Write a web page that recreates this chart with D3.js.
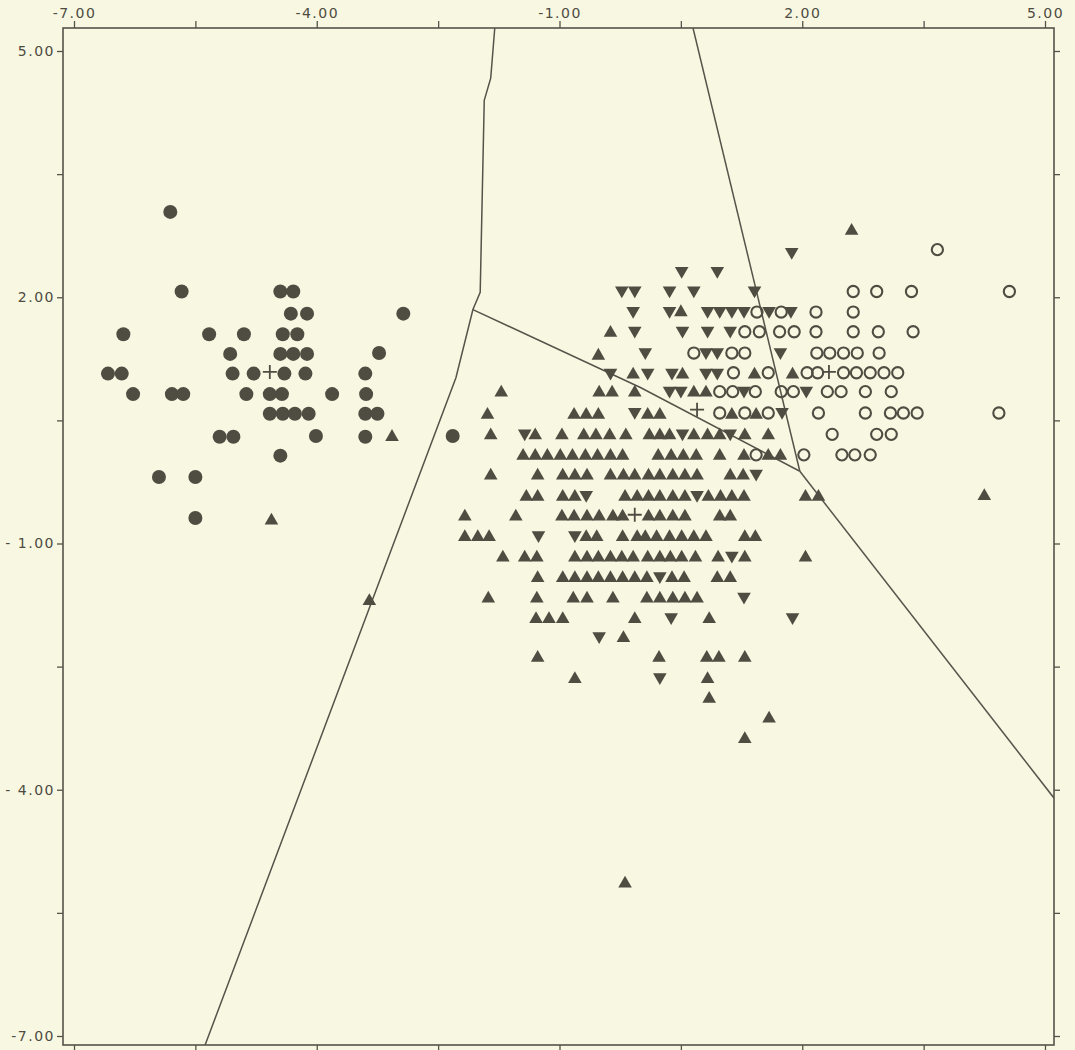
<!DOCTYPE html>
<html>
<head>
<meta charset="utf-8">
<script src="https://cdn.jsdelivr.net/npm/d3@7"></script>
<style>
  html, body { margin: 0; padding: 0; background: #f8f7e1; }
  svg { display: block; }
  text { font-family: "DejaVu Sans", Lato, sans-serif; fill: #4d4b42; }
</style>
</head>
<body>
<svg id="chart" width="1075" height="1050"></svg>
<script>
// Discriminant scores: four groups plotted on the first two functions.
const xTicks = [-7, -5.5, -4, -2.5, -1, 0.5, 2, 3.5, 5];
const yTicks = [5, 3.5, 2, 0.5, -1, -2.5, -4, -5.5, -7];
const xTickLabels = { "-7": "-7.00", "-4": "-4.00", "-1": "-1.00", "2": "2.00", "5": "5.00" };
const yTickLabels = { "5": "5.00", "2": "2.00", "-1": "- 1.00", "-4": "- 4.00", "-7": "-7.00" };

// group 1: filled circles
const filledCircles = [
  [-5.81, 3.04],
  [-5.67, 2.07], [-4.45, 2.07], [-4.29, 2.07],
  [-4.32, 1.80], [-4.12, 1.80], [-2.93, 1.80],
  [-6.39, 1.55], [-5.33, 1.55], [-4.90, 1.55], [-4.42, 1.55], [-4.24, 1.55],
  [-5.07, 1.31], [-4.45, 1.31], [-4.29, 1.31], [-4.12, 1.31], [-3.23, 1.32],
  [-6.58, 1.07], [-6.41, 1.07], [-5.04, 1.07], [-4.78, 1.07], [-4.40, 1.07], [-4.14, 1.07], [-3.40, 1.07],
  [-6.27, 0.82], [-5.79, 0.82], [-5.65, 0.82], [-4.87, 0.82], [-4.58, 0.82], [-4.43, 0.82], [-3.81, 0.82], [-3.39, 0.82],
  [-4.58, 0.58], [-4.42, 0.58], [-4.27, 0.58], [-4.10, 0.58], [-3.40, 0.58], [-3.25, 0.58],
  [-5.20, 0.30], [-5.03, 0.30], [-4.01, 0.31], [-3.40, 0.30], [-2.32, 0.31],
  [-4.45, 0.07],
  [-5.95, -0.19], [-5.50, -0.19],
  [-5.50, -0.69]
];

// group 2: upward triangles
const upTriangles = [
  [2.61, 2.82],
  [0.50, 1.83],
  [-0.37, 1.58],
  [-0.52, 1.30],
  [-0.09, 1.07], [0.52, 1.07], [1.41, 1.07], [1.88, 1.07],
  [-1.72, 0.85], [-0.51, 0.85], [-0.35, 0.85], [-0.07, 0.85], [0.66, 0.85], [0.81, 0.85],
  [-1.89, 0.58], [-0.82, 0.58], [-0.67, 0.58], [-0.52, 0.58], [0.09, 0.58], [0.24, 0.58], [1.13, 0.58], [1.43, 0.58],
  [-3.07, 0.31], [-1.85, 0.33], [-1.30, 0.33], [-0.97, 0.33], [-0.70, 0.33], [-0.55, 0.33], [-0.38, 0.33], [-0.18, 0.33],
  [0.11, 0.33], [0.24, 0.33], [0.36, 0.33], [0.66, 0.33], [0.83, 0.33], [0.98, 0.33], [1.29, 0.33], [1.58, 0.33],
  [-1.45, 0.08], [-1.30, 0.08], [-1.15, 0.08], [-0.99, 0.08], [-0.84, 0.08], [-0.68, 0.08], [-0.53, 0.08], [-0.37, 0.08],
  [-0.22, 0.08], [0.22, 0.08], [0.38, 0.08], [0.53, 0.08], [0.69, 0.08], [0.98, 0.08], [1.28, 0.08], [1.58, 0.08], [1.73, 0.08],
  [-1.85, -0.16], [-1.27, -0.16], [-0.96, -0.16], [-0.81, -0.16], [-0.66, -0.16], [-0.37, -0.16], [-0.21, -0.16], [-0.07, -0.16],
  [0.10, -0.16], [0.24, -0.16], [0.40, -0.16], [0.55, -0.16], [0.70, -0.16], [1.11, -0.16], [1.27, -0.16],
  [-1.41, -0.42], [-1.27, -0.42], [-0.96, -0.42], [-0.81, -0.42], [-0.19, -0.42], [-0.04, -0.42], [0.10, -0.42], [0.24, -0.42],
  [0.40, -0.42], [0.55, -0.42], [0.84, -0.42], [0.99, -0.42], [1.13, -0.42], [1.28, -0.42], [2.04, -0.42], [2.20, -0.42], [4.25, -0.41],
  [-4.56, -0.71], [-2.17, -0.66], [-1.54, -0.66], [-0.97, -0.66], [-0.82, -0.66], [-0.66, -0.66], [-0.51, -0.66], [-0.34, -0.66],
  [-0.22, -0.66], [0.10, -0.66], [0.24, -0.66], [0.40, -0.66], [0.55, -0.66], [0.98, -0.66], [1.11, -0.66],
  [-2.17, -0.91], [-2.01, -0.91], [-1.87, -0.91], [-0.67, -0.91], [-0.54, -0.91], [-0.22, -0.91], [-0.04, -0.91], [0.06, -0.91],
  [0.20, -0.91], [0.36, -0.91], [0.51, -0.91], [0.66, -0.91], [0.81, -0.91], [1.29, -0.91], [1.42, -0.91],
  [-1.70, -1.16], [-1.43, -1.16], [-1.28, -1.16], [-0.81, -1.16], [-0.66, -1.16], [-0.52, -1.16], [-0.37, -1.16], [-0.23, -1.16],
  [-0.09, -1.16], [0.09, -1.16], [0.24, -1.16], [0.37, -1.16], [0.51, -1.16], [0.68, -1.16], [0.96, -1.16], [1.29, -1.16], [2.04, -1.16],
  [-1.27, -1.41], [-0.96, -1.41], [-0.81, -1.41], [-0.66, -1.41], [-0.52, -1.41], [-0.37, -1.41], [-0.22, -1.41], [-0.07, -1.41],
  [0.08, -1.41], [0.39, -1.41], [0.54, -1.41], [0.95, -1.41], [1.11, -1.41],
  [-3.35, -1.69], [-1.88, -1.66], [-1.28, -1.66], [-0.83, -1.66], [-0.66, -1.66], [-0.34, -1.66], [0.08, -1.66], [0.24, -1.66],
  [0.40, -1.66], [0.55, -1.66], [0.70, -1.66],
  [-1.29, -1.91], [-1.13, -1.91], [-0.96, -1.91], [-0.07, -1.91], [0.85, -1.91],
  [-0.21, -2.14],
  [-1.27, -2.38], [0.23, -2.38], [0.82, -2.38], [0.97, -2.38], [1.29, -2.38],
  [-0.81, -2.64], [0.83, -2.64],
  [0.85, -2.88],
  [1.59, -3.12],
  [1.29, -3.37],
  [-0.19, -5.13]
];

// group 3: downward triangles
const downTriangles = [
  [1.87, 2.54], [0.51, 2.31], [0.95, 2.31],
  [-0.23, 2.07], [-0.07, 2.07], [0.36, 2.07], [0.66, 2.07], [1.41, 2.07],
  [-0.09, 1.82], [0.36, 1.82], [0.83, 1.82], [0.98, 1.82], [1.13, 1.82], [1.28, 1.82], [1.59, 1.82], [1.86, 1.82],
  [-0.07, 1.58], [0.52, 1.58], [0.83, 1.58], [1.11, 1.58],
  [0.06, 1.32], [0.81, 1.32], [0.95, 1.32], [1.73, 1.32],
  [-0.37, 1.07], [0.09, 1.07], [0.39, 1.07], [0.81, 1.07], [0.95, 1.07],
  [0.36, 0.85], [0.50, 0.85], [1.28, 0.85], [2.05, 0.85],
  [-0.07, 0.59], [1.75, 0.59],
  [-1.43, 0.33], [0.52, 0.33], [1.11, 0.33],
  [1.43, -0.16],
  [-0.67, -0.42], [0.70, -0.42],
  [-1.26, -0.91], [-0.81, -0.91],
  [1.13, -1.16],
  [0.24, -1.41],
  [1.28, -1.66],
  [0.38, -1.91], [1.88, -1.91],
  [-0.51, -2.14],
  [0.24, -2.64]
];

// group 4: open circles
const openCircles = [
  [3.67, 2.58],
  [2.63, 2.07], [2.92, 2.07], [3.35, 2.07], [4.56, 2.07],
  [1.44, 1.82], [1.74, 1.82], [2.17, 1.82], [2.63, 1.82],
  [1.29, 1.58], [1.47, 1.58], [1.72, 1.58], [1.90, 1.58], [2.17, 1.58], [2.63, 1.58], [2.94, 1.58], [3.37, 1.58],
  [0.66, 1.32], [1.13, 1.32], [1.29, 1.32], [2.18, 1.32], [2.34, 1.32], [2.51, 1.32], [2.68, 1.32], [2.95, 1.32],
  [1.15, 1.08], [1.58, 1.08], [2.06, 1.08], [2.19, 1.08], [2.51, 1.08], [2.67, 1.08], [2.84, 1.08], [3.01, 1.08], [3.18, 1.08],
  [0.98, 0.85], [1.14, 0.85], [1.42, 0.85], [1.74, 0.85], [1.89, 0.85], [2.31, 0.85], [2.48, 0.85], [2.78, 0.85], [3.10, 0.85],
  [0.98, 0.59], [1.29, 0.59], [1.58, 0.59], [2.20, 0.59], [2.78, 0.59], [3.09, 0.59], [3.25, 0.59], [3.42, 0.59], [4.43, 0.59],
  [2.37, 0.33], [2.92, 0.33], [3.10, 0.33],
  [1.43, 0.08], [2.02, 0.08], [2.49, 0.08], [2.65, 0.08], [2.84, 0.08]
];

// group centroids
const centroids = [[-4.58, 1.09], [-0.07, -0.65], [0.70, 0.63], [2.33, 1.09]];

// territorial boundaries between the groups
const boundaries = [
  [[-1.80, 5.28], [-1.85, 4.67], [-1.93, 4.40], [-1.98, 2.06], [-2.07, 1.85], [-2.28, 1.02], [-5.38, -7.11]],
  [[-2.07, 1.85], [0.00, 0.90], [1.97, -0.12]],
  [[0.65, 5.28], [1.97, -0.12]],
  [[1.97, -0.12], [5.11, -4.10]]
];

const frame = { left: 63, right: 1054, top: 28, bottom: 1045 };
const ink = "#4f4c42";

const svg = d3.select("#chart");
const x = d3.scaleLinear().domain([-7, 5]).range([74, 1045]);
const y = d3.scaleLinear().domain([5, -7]).range([51, 1036]);

svg.append("rect").attr("width", 1075).attr("height", 1050).attr("fill", "#f8f7e1");

svg.append("defs").append("clipPath").attr("id", "plot-clip")
  .append("rect")
  .attr("x", frame.left).attr("y", frame.top)
  .attr("width", frame.right - frame.left).attr("height", frame.bottom - frame.top);

// frame
svg.append("rect")
  .attr("x", frame.left).attr("y", frame.top)
  .attr("width", frame.right - frame.left).attr("height", frame.bottom - frame.top)
  .attr("fill", "none").attr("stroke", "#55534a").attr("stroke-width", 1.6);

// axes on all four sides
const fmtX = d => xTickLabels[String(d)] || "";
const fmtY = d => yTickLabels[String(d)] || "";

function styleAxis(g) {
  g.select(".domain").remove();
  g.selectAll(".tick line").attr("stroke", "#55534a").attr("stroke-width", 1.3);
  g.selectAll(".tick text").attr("font-size", 14).attr("letter-spacing", 1.5).attr("fill", "#4d4b42");
}

svg.append("g").attr("transform", `translate(0,${frame.top})`)
  .call(d3.axisTop(x).tickValues(xTicks).tickFormat(fmtX).tickSize(7).tickPadding(3))
  .call(styleAxis);
svg.append("g").attr("transform", `translate(0,${frame.bottom})`)
  .call(d3.axisBottom(x).tickValues(xTicks).tickFormat(() => "").tickSize(6))
  .call(styleAxis);
svg.append("g").attr("transform", `translate(${frame.left},0)`)
  .call(d3.axisLeft(y).tickValues(yTicks).tickFormat(fmtY).tickSize(6).tickPadding(2))
  .call(styleAxis);
svg.append("g").attr("transform", `translate(${frame.right},0)`)
  .call(d3.axisRight(y).tickValues(yTicks).tickFormat(() => "").tickSize(6))
  .call(styleAxis);

// boundary lines
const line = d3.line().x(d => x(d[0])).y(d => y(d[1]));
svg.append("g").attr("clip-path", "url(#plot-clip)")
  .selectAll("path").data(boundaries).join("path")
  .attr("d", line)
  .attr("fill", "none").attr("stroke", "#55534a").attr("stroke-width", 1.5);

const marks = svg.append("g").attr("clip-path", "url(#plot-clip)");

const triUp = d3.symbol().type(d3.symbolTriangle).size(80);

marks.append("g").selectAll("path").data(upTriangles).join("path")
  .attr("d", triUp)
  .attr("transform", d => `translate(${x(d[0])},${y(d[1]) + 1})`)
  .attr("fill", ink);

marks.append("g").selectAll("path").data(downTriangles).join("path")
  .attr("d", triUp)
  .attr("transform", d => `translate(${x(d[0])},${y(d[1]) - 1}) rotate(180)`)
  .attr("fill", ink);

marks.append("g").selectAll("circle").data(filledCircles).join("circle")
  .attr("cx", d => x(d[0])).attr("cy", d => y(d[1])).attr("r", 7)
  .attr("fill", ink);

marks.append("g").selectAll("circle").data(openCircles).join("circle")
  .attr("cx", d => x(d[0])).attr("cy", d => y(d[1])).attr("r", 5.6)
  .attr("fill", "none").attr("stroke", ink).attr("stroke-width", 2.1);

const cross = 7;
marks.append("g").selectAll("path").data(centroids).join("path")
  .attr("d", d => {
    const cx = x(d[0]), cy = y(d[1]);
    return `M${cx - cross},${cy}H${cx + cross}M${cx},${cy - cross}V${cy + cross}`;
  })
  .attr("stroke", ink).attr("stroke-width", 1.8).attr("fill", "none");
</script>
</body>
</html>
